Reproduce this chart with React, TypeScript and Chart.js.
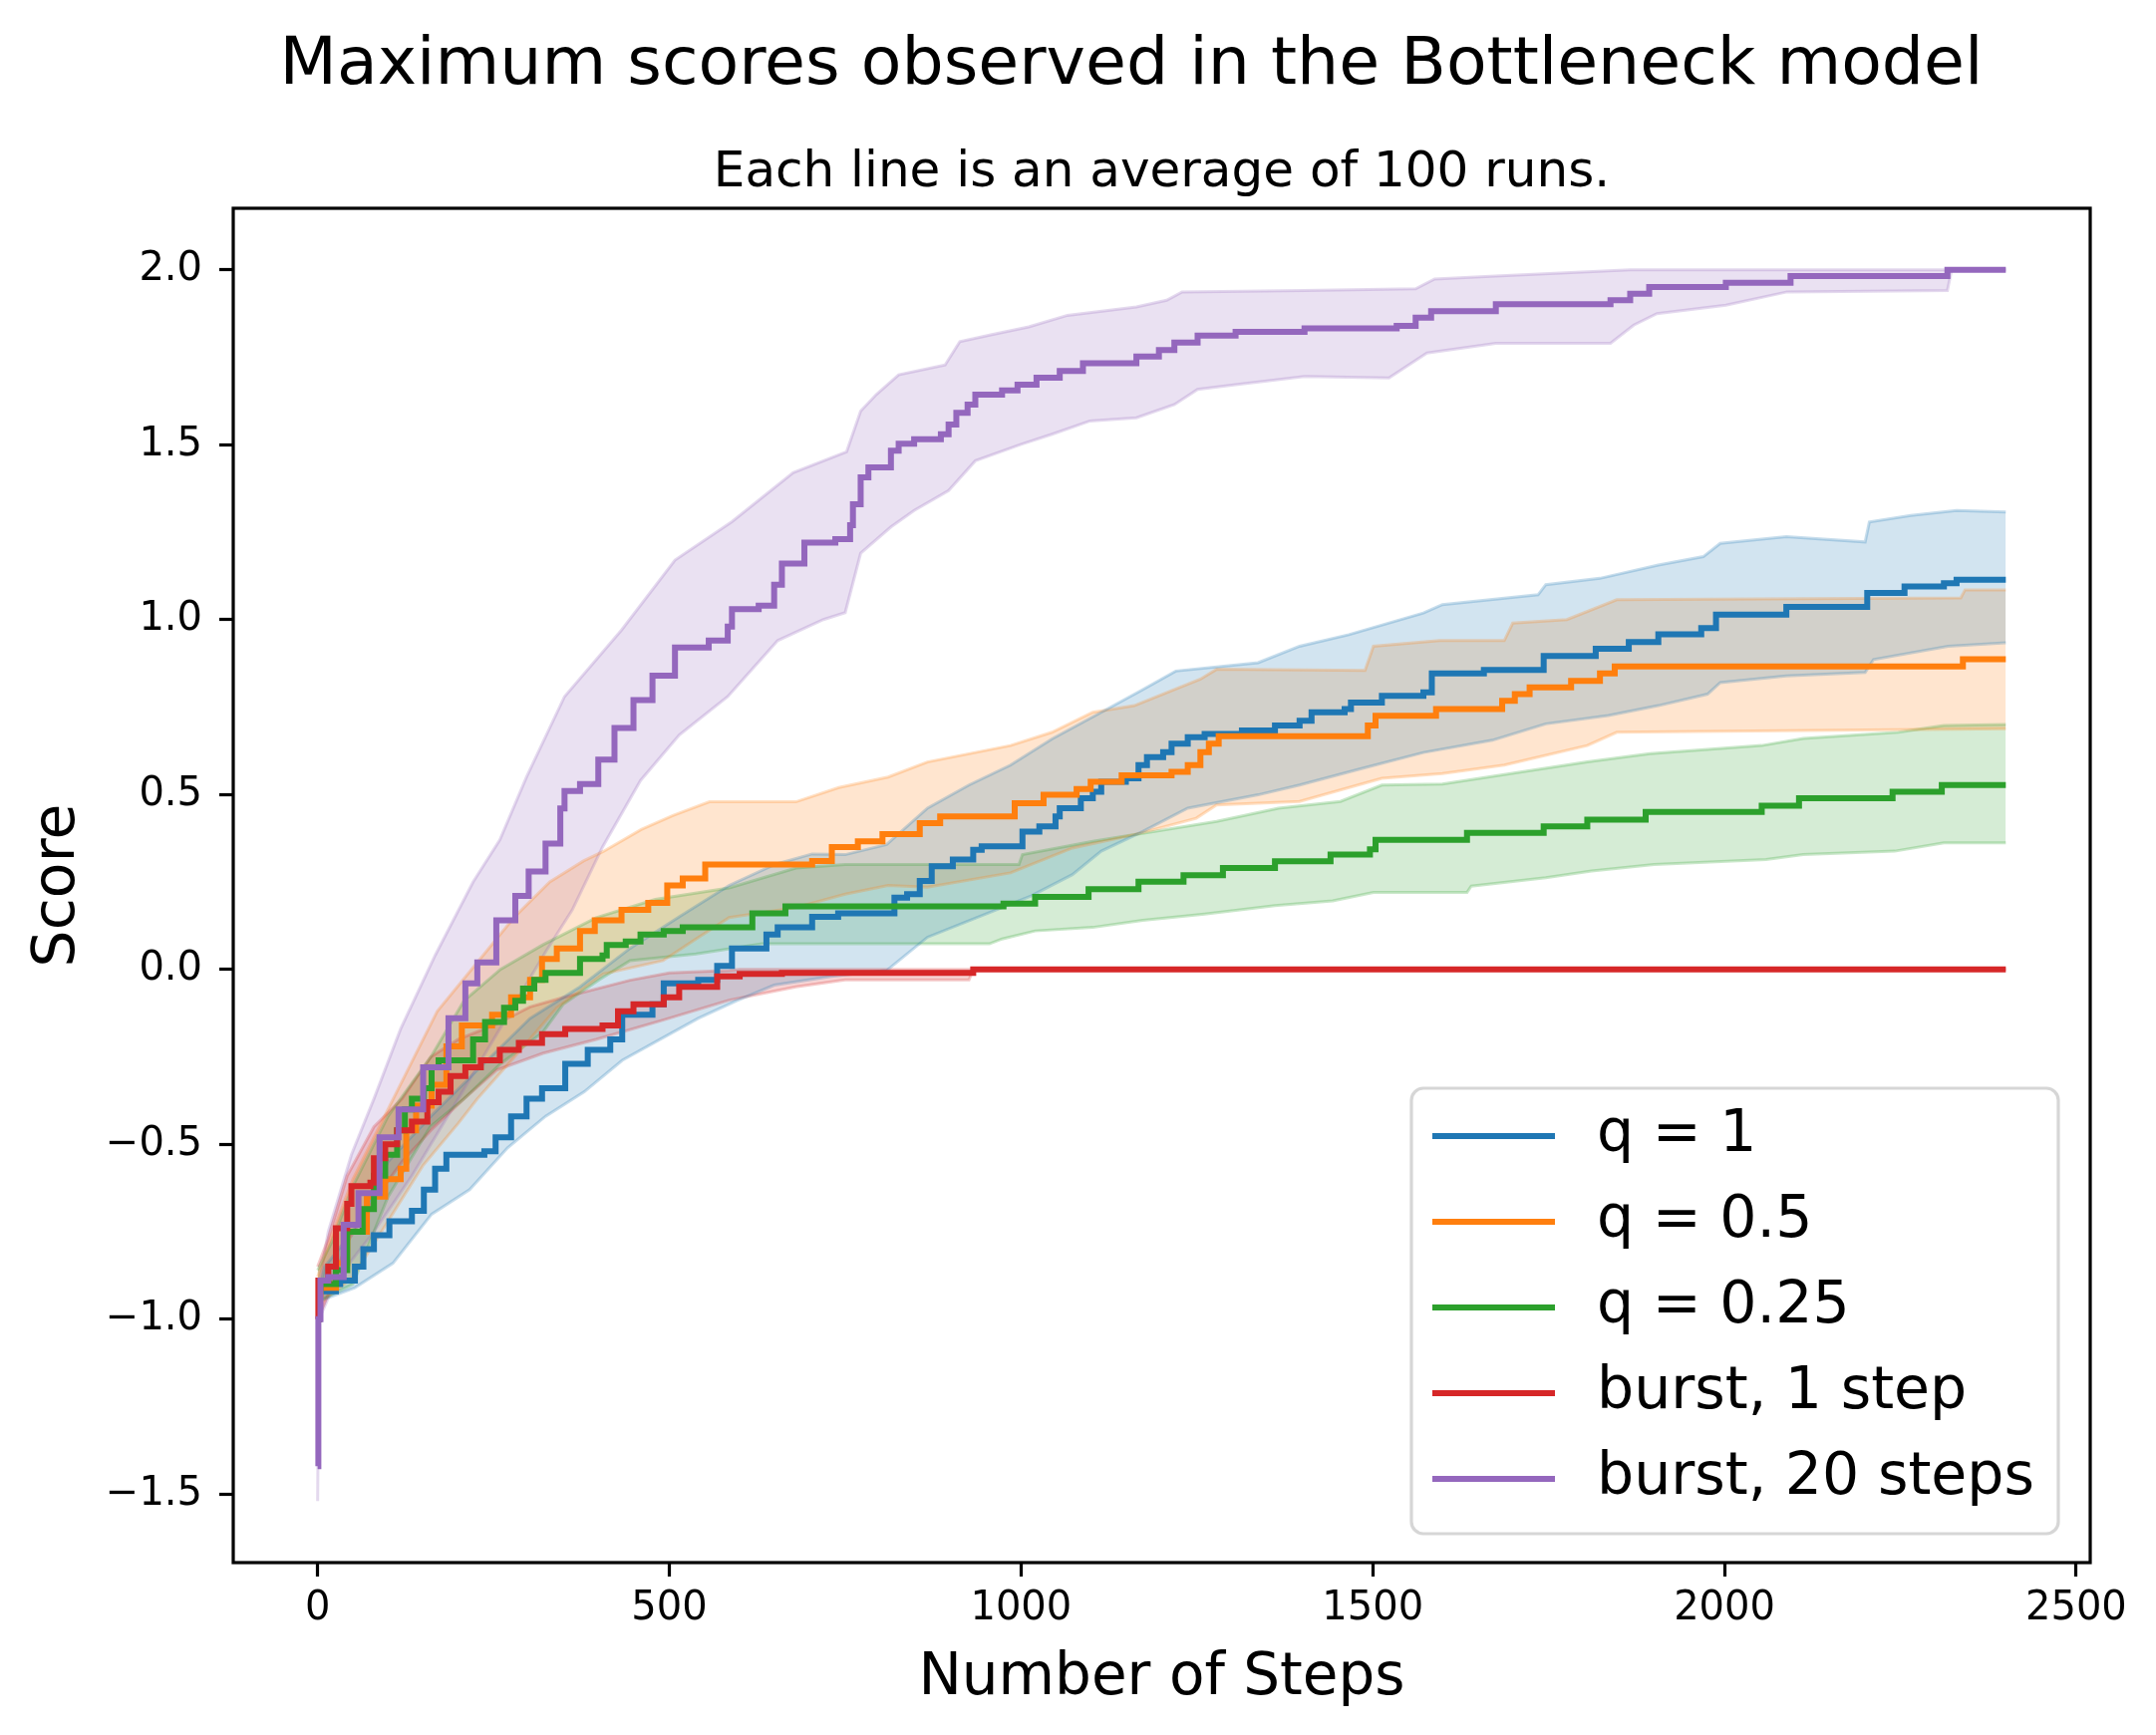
import { useEffect, useRef } from "react"
import { Chart, registerables } from "chart.js"

// Register all Chart.js components
Chart.register(...registerables)

type Pt = [number, number]

const figTitle = "Maximum scores observed in the Bottleneck model"
const subTitle = "Each line is an average of 100 runs."
const xLabel = "Number of Steps"
const yLabel = "Score"

const xTicks = [0, 500, 1000, 1500, 2000, 2500]
const yTicks = [-1.5, -1.0, -0.5, 0.0, 0.5, 1.0, 1.5, 2.0]

const seriesLabels = ["q = 1", "q = 0.5", "q = 0.25", "burst, 1 step", "burst, 20 steps"]
const seriesColors = ["31, 119, 180", "255, 127, 14", "44, 160, 44", "214, 39, 40", "148, 103, 189"]

// mean lines: [step, score] where the score becomes that value
const q1Mean: Pt[] = [
  [0, -1.0], [2, -0.92], [26, -0.9], [32, -0.89], [53, -0.85], [65, -0.8], [80, -0.76], [102, -0.72],
  [134, -0.69], [151, -0.63], [167, -0.57], [183, -0.53], [237, -0.52], [253, -0.48], [275, -0.42],
  [297, -0.37], [319, -0.34], [352, -0.27], [384, -0.23], [416, -0.2], [433, -0.13], [476, -0.1],
  [492, -0.04], [541, -0.03], [568, 0.01], [589, 0.06], [638, 0.1], [654, 0.12], [703, 0.15], [740, 0.16],
  [820, 0.205], [838, 0.215], [856, 0.253], [873, 0.295], [903, 0.314], [932, 0.342], [944, 0.352],
  [1002, 0.394], [1026, 0.409], [1049, 0.437], [1055, 0.461], [1085, 0.489], [1102, 0.508], [1114, 0.536],
  [1149, 0.546], [1167, 0.584], [1179, 0.607], [1202, 0.621], [1214, 0.645], [1237, 0.664], [1261, 0.673],
  [1314, 0.683], [1361, 0.697], [1396, 0.711], [1413, 0.735], [1460, 0.744], [1469, 0.763], [1513, 0.782],
  [1572, 0.792], [1584, 0.846], [1658, 0.856], [1743, 0.896], [1817, 0.917], [1864, 0.936], [1906, 0.958],
  [1967, 0.976], [1988, 1.014], [2088, 1.036], [2203, 1.076], [2256, 1.095], [2312, 1.104], [2330, 1.114],
  [2400, 1.114],
]
const q05Mean: Pt[] = [
  [0, -1.0], [2, -0.93], [4, -0.91], [26, -0.84], [42, -0.75], [70, -0.65], [96, -0.6], [118, -0.57],
  [126, -0.46], [140, -0.39], [162, -0.33], [183, -0.22], [205, -0.16], [248, -0.13], [275, -0.08],
  [302, -0.03], [319, 0.03], [340, 0.06], [373, 0.11], [394, 0.14], [432, 0.17], [470, 0.19], [497, 0.24],
  [519, 0.26], [551, 0.3], [703, 0.31], [731, 0.35], [768, 0.366], [803, 0.387], [856, 0.418], [885, 0.437],
  [991, 0.475], [1032, 0.499], [1079, 0.516], [1099, 0.536], [1143, 0.555], [1214, 0.565], [1237, 0.584],
  [1255, 0.621], [1267, 0.645], [1281, 0.667], [1493, 0.697], [1504, 0.725], [1590, 0.744], [1684, 0.768],
  [1702, 0.787], [1723, 0.806], [1782, 0.825], [1823, 0.846], [1844, 0.866], [2339, 0.887], [2400, 0.887],
]
const q025Mean: Pt[] = [
  [0, -1.0], [2, -0.92], [4, -0.9], [26, -0.86], [42, -0.75], [64, -0.685], [80, -0.59], [96, -0.53],
  [113, -0.46], [124, -0.4], [134, -0.37], [151, -0.34], [162, -0.28], [172, -0.26], [221, -0.2],
  [238, -0.15], [265, -0.11], [281, -0.09], [292, -0.055], [308, -0.03], [324, -0.01], [373, 0.03],
  [405, 0.04], [411, 0.07], [438, 0.08], [459, 0.1], [492, 0.11], [519, 0.12], [618, 0.16], [665, 0.18],
  [975, 0.188], [1020, 0.207], [1096, 0.229], [1167, 0.251], [1231, 0.269], [1287, 0.29], [1361, 0.309],
  [1440, 0.328], [1496, 0.343], [1504, 0.37], [1634, 0.39], [1743, 0.409], [1805, 0.428], [1888, 0.45],
  [2053, 0.468], [2106, 0.489], [2239, 0.508], [2309, 0.527], [2400, 0.527],
]
const burst1Mean: Pt[] = [
  [0, -1.0], [1, -0.89], [15, -0.85], [26, -0.74], [42, -0.67], [48, -0.62], [75, -0.61], [80, -0.54],
  [96, -0.5], [113, -0.46], [134, -0.435], [156, -0.38], [172, -0.35], [189, -0.305], [210, -0.28],
  [232, -0.26], [259, -0.23], [286, -0.21], [319, -0.185], [352, -0.17], [405, -0.16], [427, -0.12],
  [449, -0.1], [492, -0.08], [514, -0.05], [568, -0.02], [600, -0.013], [660, -0.01], [932, 0.0], [2400, 0.0],
]
const burst20Mean: Pt[] = [
  [0, -1.42], [1, -1.0], [4, -0.89], [15, -0.88], [37, -0.73], [58, -0.64], [88, -0.48], [115, -0.4],
  [150, -0.28], [186, -0.14], [210, -0.04], [227, 0.02], [254, 0.14], [281, 0.21], [300, 0.28], [324, 0.36],
  [345, 0.46], [351, 0.51], [373, 0.53], [399, 0.6], [422, 0.69], [449, 0.77], [476, 0.84], [508, 0.92],
  [556, 0.94], [583, 0.98], [589, 1.03], [627, 1.04], [649, 1.1], [660, 1.16], [692, 1.22], [736, 1.23],
  [757, 1.27], [761, 1.33], [772, 1.407], [783, 1.435], [815, 1.483], [826, 1.503], [848, 1.516],
  [886, 1.53], [897, 1.558], [908, 1.591], [924, 1.615], [935, 1.643], [973, 1.655], [995, 1.672],
  [1022, 1.692], [1055, 1.711], [1088, 1.733], [1164, 1.752], [1196, 1.771], [1218, 1.792], [1251, 1.812],
  [1305, 1.823], [1403, 1.833], [1534, 1.84], [1561, 1.863], [1583, 1.882], [1675, 1.902], [1838, 1.913],
  [1866, 1.932], [1893, 1.951], [2002, 1.963], [2094, 1.982], [2317, 2.0], [2400, 2.0],
]

// shaded bands (upper / lower edge)
const q1Upper: Pt[] = [
  [0, -0.95], [10, -0.85], [30, -0.8], [60, -0.72], [100, -0.55], [161, -0.42], [231, -0.28], [302, -0.14],
  [373, -0.05], [444, 0.06], [514, 0.15], [585, 0.24], [650, 0.3], [703, 0.33], [750, 0.328], [809, 0.357],
  [867, 0.461], [926, 0.527], [985, 0.584], [1044, 0.659], [1114, 0.735], [1173, 0.8], [1220, 0.853],
  [1337, 0.877], [1396, 0.924], [1466, 0.957], [1572, 1.019], [1599, 1.043], [1735, 1.071], [1746, 1.1],
  [1823, 1.118], [1906, 1.156], [1970, 1.18], [1994, 1.218], [2088, 1.237], [2200, 1.222], [2206, 1.279],
  [2265, 1.298], [2330, 1.312], [2400, 1.308],
]
const q1Lower: Pt[] = [
  [0, -0.96], [5, -0.946], [53, -0.91], [107, -0.84], [162, -0.7], [216, -0.63], [270, -0.51], [324, -0.42],
  [379, -0.35], [433, -0.26], [487, -0.2], [541, -0.14], [595, -0.09], [649, -0.045], [730, -0.02],
  [809, -0.003], [867, 0.092], [926, 0.139], [1014, 0.21], [1073, 0.271], [1114, 0.338], [1173, 0.394],
  [1237, 0.461], [1337, 0.499], [1396, 0.527], [1484, 0.574], [1572, 0.62], [1670, 0.655], [1746, 0.702],
  [1835, 0.726], [1906, 0.754], [1976, 0.787], [1994, 0.82], [2088, 0.839], [2200, 0.849], [2212, 0.886],
  [2318, 0.924], [2400, 0.934],
]
const q05Upper: Pt[] = [
  [0, -0.88], [20, -0.76], [50, -0.6], [100, -0.4], [170, -0.12], [231, 0.03], [280, 0.15], [330, 0.25],
  [378, 0.31], [406, 0.337], [460, 0.4], [505, 0.44], [557, 0.479], [680, 0.479], [741, 0.52], [811, 0.55],
  [867, 0.593], [985, 0.64], [1044, 0.678], [1102, 0.735], [1161, 0.754], [1255, 0.83], [1278, 0.858],
  [1489, 0.855], [1501, 0.924], [1595, 0.94], [1687, 0.94], [1699, 0.99], [1776, 1.0], [1847, 1.057],
  [2336, 1.062], [2342, 1.085], [2400, 1.085],
]
const q05Lower: Pt[] = [
  [0, -0.96], [50, -0.88], [100, -0.72], [150, -0.56], [200, -0.44], [227, -0.37], [280, -0.25],
  [340, -0.11], [406, -0.013], [491, 0.025], [540, 0.09], [585, 0.148], [680, 0.177], [750, 0.215],
  [811, 0.24], [867, 0.235], [985, 0.276], [1073, 0.347], [1161, 0.385], [1249, 0.432], [1278, 0.47],
  [1396, 0.48], [1513, 0.546], [1599, 0.56], [1687, 0.584], [1805, 0.64], [1847, 0.678], [2400, 0.688],
]
const q025Upper: Pt[] = [
  [0, -0.86], [20, -0.78], [50, -0.62], [100, -0.42], [161, -0.25], [208, -0.09], [260, 0.0], [320, 0.07],
  [396, 0.148], [480, 0.2], [585, 0.233], [680, 0.29], [750, 0.3], [997, 0.3], [1002, 0.328], [1102, 0.366],
  [1278, 0.423], [1366, 0.461], [1454, 0.48], [1513, 0.527], [1599, 0.53], [1805, 0.593], [1894, 0.617],
  [2053, 0.64], [2112, 0.66], [2247, 0.678], [2312, 0.697], [2400, 0.7],
]
const q025Lower: Pt[] = [
  [0, -0.95], [50, -0.9], [100, -0.65], [160, -0.45], [208, -0.37], [260, -0.27], [320, -0.18], [349, -0.1],
  [400, -0.03], [444, 0.025], [538, 0.044], [632, 0.073], [955, 0.073], [973, 0.087], [1020, 0.11],
  [1102, 0.12], [1173, 0.14], [1261, 0.158], [1361, 0.182], [1443, 0.196], [1501, 0.22], [1634, 0.22],
  [1640, 0.238], [1746, 0.262], [1811, 0.281], [1900, 0.3], [2059, 0.314], [2112, 0.328], [2242, 0.338],
  [2312, 0.362], [2400, 0.362],
]
const burst1Upper: Pt[] = [
  [0, -0.85], [15, -0.77], [42, -0.59], [80, -0.45], [120, -0.37], [161, -0.25], [200, -0.2], [250, -0.16],
  [302, -0.107], [350, -0.08], [444, -0.031], [500, -0.01], [585, -0.003], [600, 0.0], [2400, 0.0],
]
const burst1Lower: Pt[] = [
  [0, -1.0], [15, -0.93], [42, -0.78], [80, -0.66], [120, -0.55], [161, -0.46], [208, -0.37], [255, -0.287],
  [320, -0.24], [396, -0.2], [491, -0.145], [585, -0.088], [680, -0.05], [750, -0.03], [926, -0.03],
  [932, 0.0], [2400, 0.0],
]
const burst20Upper: Pt[] = [
  [0, -1.0], [2, -0.9], [15, -0.75], [48, -0.53], [80, -0.37], [118, -0.17], [167, 0.04], [221, 0.25],
  [259, 0.37], [297, 0.55], [351, 0.78], [432, 0.97], [508, 1.17], [589, 1.28], [676, 1.42], [752, 1.48],
  [772, 1.596], [794, 1.643], [826, 1.7], [892, 1.728], [913, 1.795], [957, 1.814], [1011, 1.837],
  [1066, 1.87], [1164, 1.894], [1207, 1.913], [1229, 1.937], [1403, 1.941], [1561, 1.946], [1588, 1.974],
  [1675, 1.982], [1866, 2.0], [2400, 2.0],
]
const burst20Lower: Pt[] = [
  [0, -1.52], [2, -1.0], [26, -0.89], [80, -0.75], [134, -0.59], [200, -0.37], [265, -0.15], [324, 0.05],
  [362, 0.17], [405, 0.35], [459, 0.54], [514, 0.67], [583, 0.78], [654, 0.94], [719, 1.0], [750, 1.02],
  [772, 1.19], [815, 1.265], [848, 1.312], [897, 1.369], [935, 1.454], [1000, 1.501], [1044, 1.53],
  [1098, 1.568], [1164, 1.577], [1218, 1.615], [1251, 1.658], [1305, 1.672], [1403, 1.695], [1523, 1.691],
  [1577, 1.762], [1675, 1.79], [1838, 1.79], [1871, 1.842], [1904, 1.875], [2002, 1.899], [2089, 1.937],
  [2317, 1.941], [2323, 2.0], [2400, 2.0],
]

const means = [q1Mean, q05Mean, q025Mean, burst1Mean, burst20Mean]
const uppers = [q1Upper, q05Upper, q025Upper, burst1Upper, burst20Upper]
const lowers = [q1Lower, q05Lower, q025Lower, burst1Lower, burst20Lower]

const FONT = '"DejaVu Sans"'

const toXY = (pts: Pt[]) => pts.map(([x, y]) => ({ x, y }))

const formatY = (v: number) => (v < 0 ? "\u2212" + Math.abs(v).toFixed(1) : v.toFixed(1))

// axes frame (all four spines)
const framePlugin = {
  id: "frame",
  afterDatasetsDraw(chart: any) {
    const { ctx, chartArea: a } = chart
    ctx.save()
    ctx.strokeStyle = "#000"
    ctx.lineWidth = 3.2
    ctx.strokeRect(a.left, a.top, a.right - a.left, a.bottom - a.top)
    ctx.restore()
  },
}

// figure title above the axes title
const figTitlePlugin = {
  id: "figTitle",
  afterDraw(chart: any) {
    const { ctx } = chart
    ctx.save()
    ctx.font = `66.5px ${FONT}`
    ctx.fillStyle = "#000"
    ctx.textAlign = "center"
    ctx.textBaseline = "alphabetic"
    ctx.fillText(figTitle, 1135, 84)
    ctx.restore()
  },
}

// matplotlib-like legend in the lower right corner
const legendPlugin = {
  id: "mplLegend",
  afterDraw(chart: any) {
    const { ctx, chartArea: a } = chart
    const w = 649
    const h = 447
    const x0 = a.right - 32 - w
    const y0 = a.bottom - 29 - h
    const r = 12
    ctx.save()
    ctx.beginPath()
    ctx.moveTo(x0 + r, y0)
    ctx.arcTo(x0 + w, y0, x0 + w, y0 + h, r)
    ctx.arcTo(x0 + w, y0 + h, x0, y0 + h, r)
    ctx.arcTo(x0, y0 + h, x0, y0, r)
    ctx.arcTo(x0, y0, x0 + w, y0, r)
    ctx.closePath()
    ctx.fillStyle = "rgba(255,255,255,0.8)"
    ctx.fill()
    ctx.strokeStyle = "rgba(204,204,204,0.8)"
    ctx.lineWidth = 3.2
    ctx.stroke()
    ctx.font = `58.5px ${FONT}`
    ctx.textBaseline = "middle"
    ctx.textAlign = "left"
    seriesLabels.forEach((label, i) => {
      const y = y0 + 48 + i * 86
      ctx.strokeStyle = `rgb(${seriesColors[i]})`
      ctx.lineWidth = 6
      ctx.lineCap = "butt"
      ctx.beginPath()
      ctx.moveTo(x0 + 21, y)
      ctx.lineTo(x0 + 144, y)
      ctx.stroke()
      ctx.fillStyle = "#000"
      ctx.fillText(label, x0 + 186, y)
    })
    ctx.restore()
  },
}

export default function App() {
  const chartRef = useRef<HTMLCanvasElement>(null)
  const chartInstance = useRef<Chart | null>(null)

  useEffect(() => {
    if (!chartRef.current) return
    if (chartInstance.current) chartInstance.current.destroy()

    Chart.defaults.font.family = FONT
    Chart.defaults.color = "#000"

    const datasets: any[] = []
    // bands first (drawn underneath)
    seriesLabels.forEach((label, i) => {
      const c = seriesColors[i]
      datasets.push({
        label: label + " upper",
        data: toXY(uppers[i]),
        borderColor: `rgba(${c}, 0.25)`,
        borderWidth: 3,
        pointRadius: 0,
        fill: false,
        order: 30 + i,
      })
      datasets.push({
        label: label + " lower",
        data: toXY(lowers[i]),
        borderColor: `rgba(${c}, 0.25)`,
        backgroundColor: `rgba(${c}, 0.2)`,
        borderWidth: 3,
        pointRadius: 0,
        fill: "-1",
        order: 30 + i,
      })
    })
    // mean lines, purple on top
    seriesLabels.forEach((label, i) => {
      datasets.push({
        label,
        data: toXY(means[i]),
        borderColor: `rgb(${seriesColors[i]})`,
        borderWidth: 6,
        pointRadius: 0,
        stepped: true,
        fill: false,
        order: 10 - i,
      })
    })

    const ctx = chartRef.current.getContext("2d")
    if (ctx) {
      chartInstance.current = new Chart(ctx, {
        type: "line",
        data: { datasets },
        options: {
          animation: false,
          responsive: true,
          maintainAspectRatio: false,
          events: [],
          layout: { padding: { left: 0, right: 66, top: 0, bottom: 0 } },
          plugins: {
            legend: { display: false },
            tooltip: { enabled: false },
            title: { display: false },
            subtitle: {
              display: true,
              text: subTitle,
              color: "#000",
              fullSize: false,
              font: { size: 50, weight: "normal", family: FONT },
              padding: { top: 144, bottom: 5 },
            },
            filler: { drawTime: "beforeDatasetsDraw" },
          } as any,
          scales: {
            x: {
              type: "linear",
              min: -120,
              max: 2520,
              afterBuildTicks: (s: any) => {
                s.ticks = xTicks.map((v) => ({ value: v }))
              },
              afterFit: (s: any) => {
                s.height = 173
              },
              grid: { display: true, drawOnChartArea: false, drawTicks: true, tickLength: 14, tickWidth: 3.2, tickColor: "#000" },
              border: { display: false },
              ticks: {
                autoSkip: false,
                maxRotation: 0,
                padding: 9,
                color: "#000",
                font: { size: 40 },
                callback: (v: any) => String(v),
              },
              title: { display: true, text: xLabel, color: "#000", font: { size: 58 }, padding: { top: 0, bottom: 21 } },
            },
            y: {
              type: "linear",
              min: -1.696,
              max: 2.176,
              afterBuildTicks: (s: any) => {
                s.ticks = yTicks.map((v) => ({ value: v }))
              },
              afterFit: (s: any) => {
                s.width = 234
              },
              grid: { display: true, drawOnChartArea: false, drawTicks: true, tickLength: 14, tickWidth: 3.2, tickColor: "#000" },
              border: { display: false },
              ticks: {
                autoSkip: false,
                padding: 17,
                color: "#000",
                font: { size: 40 },
                callback: (v: any) => formatY(Number(v)),
              },
              title: { display: true, text: yLabel, color: "#000", font: { size: 58.5 }, padding: { top: 24, bottom: 0 } },
            },
          },
        },
        plugins: [framePlugin, figTitlePlugin, legendPlugin],
      })
    }

    return () => {
      if (chartInstance.current) {
        chartInstance.current.destroy()
        chartInstance.current = null
      }
    }
  }, [])

  return (
    <div style={{ position: "absolute", left: 0, top: 0, width: 2163, height: 1741, background: "#fff" }}>
      <canvas ref={chartRef} />
    </div>
  )
}
